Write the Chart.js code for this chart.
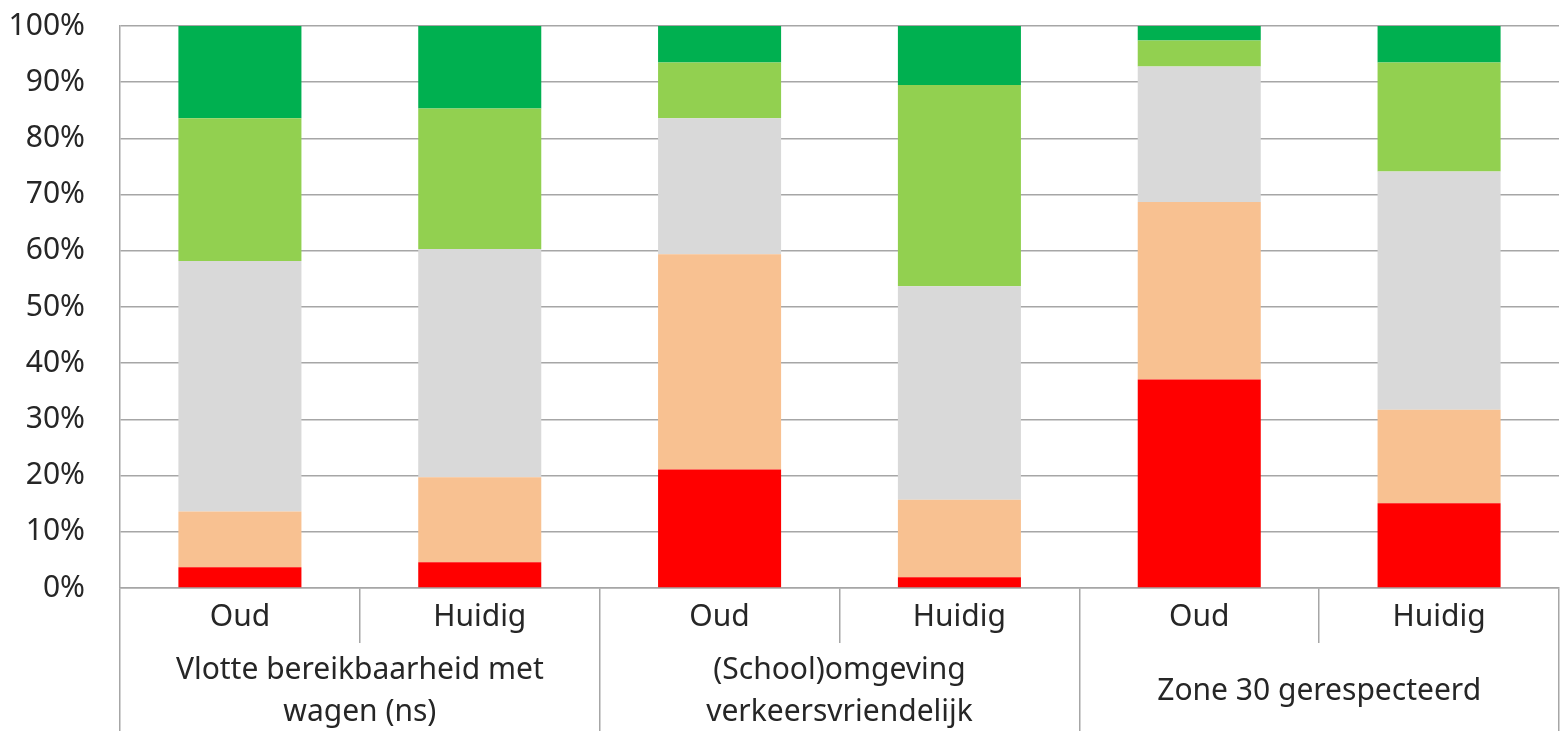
<!DOCTYPE html>
<html>
<head>
<meta charset="utf-8">
<script src="https://cdn.jsdelivr.net/npm/chart.js@4/dist/chart.umd.min.js"></script>
<style>
  html, body { margin: 0; padding: 0; background: #fff; }
  #wrap { width: 1560px; height: 731px; }
</style>
</head>
<body>
<div id="wrap"><canvas id="chart"></canvas></div>
<script>
// Data (percent of answers)
const periods = ["Oud", "Huidig", "Oud", "Huidig", "Oud", "Huidig"];
const groups = [
  ["Vlotte bereikbaarheid met", "wagen (ns)"],
  ["(School)omgeving", "verkeersvriendelijk"],
  "Zone 30 gerespecteerd"
];
const seriesNames = ["Helemaal oneens", "Oneens", "Neutraal", "Eens", "Helemaal eens"];
const redValues = [3.7, 4.6, 21.1, 1.9, 37.1, 15.1];
const orangeValues = [9.9, 15.1, 38.3, 13.8, 31.6, 16.6];
const greyValues = [44.6, 40.6, 24.2, 38.0, 24.1, 42.4];
const lightGreenValues = [25.4, 25.0, 9.9, 35.8, 4.6, 19.4];
const darkGreenValues = [16.4, 14.7, 6.5, 10.5, 2.6, 6.5];
const yTicks = [0, 10, 20, 30, 40, 50, 60, 70, 80, 90, 100];

const colors = ["#FF0000", "#F8C191", "#D9D9D9", "#92D050", "#00B050"];
const allValues = [redValues, orangeValues, greyValues, lightGreenValues, darkGreenValues];

const lineColor = "#A6A6A6";
const textColor = "#262626";
const fontFamily = "'Noto Sans', 'Open Sans', sans-serif";

const datasets = allValues.map((vals, i) => ({
  label: seriesNames[i],
  data: vals,
  backgroundColor: colors[i],
  borderWidth: 0,
  barPercentage: 0.513,
  categoryPercentage: 1.0,
  xAxisID: "x",
}));

new Chart(document.getElementById("chart"), {
  type: "bar",
  data: { labels: periods, datasets: datasets },
  options: {
    responsive: true,
    maintainAspectRatio: false,
    animation: false,
    layout: { padding: { left: 0, right: 1, top: 0, bottom: 0 } },
    plugins: {
      legend: { display: false },
      tooltip: { enabled: false },
    },
    scales: {
      x: {
        stacked: true,
        position: "bottom",
        offset: true,
        afterFit: (s) => { s.height = 55; },
        grid: {
          offset: true,
          drawOnChartArea: false,
          color: lineColor,
          lineWidth: 1.5,
          tickLength: 55,
        },
        border: { color: lineColor, width: 1.5 },
        ticks: {
          color: textColor,
          font: { family: fontFamily, size: 30, lineHeight: 1.83 },
          padding: -53,
          maxRotation: 0,
          minRotation: 0,
          autoSkip: false,
        },
      },
      x2: {
        type: "category",
        labels: groups,
        position: "bottom",
        offset: true,
        afterFit: (s) => { s.height = 88; },
        grid: {
          offset: true,
          drawOnChartArea: false,
          color: lineColor,
          lineWidth: 1.5,
          tickLength: 88,
        },
        border: { display: false },
        ticks: {
          color: textColor,
          font: { family: fontFamily, size: 30, lineHeight: 1.4 },
          padding: -61,
          crossAlign: "center",
          maxRotation: 0,
          minRotation: 0,
          autoSkip: false,
        },
      },
      y: {
        stacked: true,
        min: 0,
        max: 100,
        afterFit: (s) => {
          s.width = 120;
          s.paddingTop = 26;
          s.paddingBottom = 0;
        },
        afterBuildTicks: (axis) => {
          axis.ticks = yTicks.map((v) => ({ value: v }));
        },
        grid: {
          color: lineColor,
          lineWidth: 1.5,
          drawTicks: false,
        },
        border: { color: lineColor, width: 1.5 },
        ticks: {
          color: textColor,
          font: { family: fontFamily, size: 30 },
          padding: 35,
          callback: (v) => v + "%",
        },
      },
    },
  },
});
</script>
</body>
</html>
